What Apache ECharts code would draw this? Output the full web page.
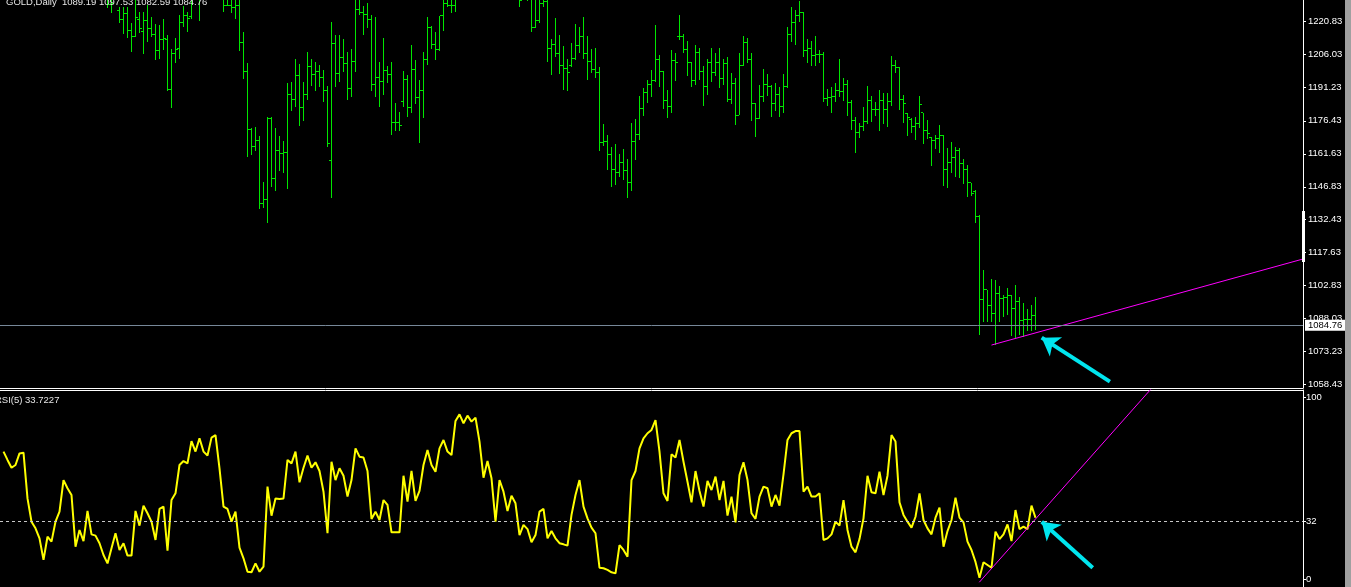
<!DOCTYPE html>
<html>
<head>
<meta charset="utf-8">
<title>GOLD,Daily</title>
<script src="https://cdn.jsdelivr.net/npm/echarts@6/dist/echarts.min.js"></script>
<style>
html, body { margin: 0; padding: 0; background: #000; }
#chart { width: 1351px; height: 587px; }
</style>
</head>
<body>
<div id="chart"></div>
<script>
// daily bars (bars that run above the top edge are estimates)
var opens = [
  1258, 1262, 1260, 1258, 1259, 1263, 1264, 1257, 1252, 1250,
  1247, 1240, 1243, 1242, 1245, 1247, 1253, 1251, 1250, 1240,
  1243, 1240, 1245, 1241, 1240, 1237, 1233, 1228.5, 1230.9, 1226,
  1221.9, 1224.6, 1217, 1214.4, 1222, 1216.4, 1221.3, 1217.9, 1214.9, 1207.8,
  1212.9, 1213, 1190.5, 1206.7, 1208.9, 1220.5, 1223.8, 1223.1, 1231.5, 1231,
  1234, 1233, 1232.5, 1238, 1239, 1234, 1228, 1228.2, 1227.3, 1228,
  1211.4, 1198.4, 1172.3, 1164.8, 1167.8, 1139.4, 1141.2, 1177.5, 1150.6, 1163.3,
  1161.8, 1162, 1188.3, 1186, 1196.5, 1182.5, 1188, 1200.7, 1197, 1198.4,
  1196, 1190.2, 1158.5, 1211.1, 1197.7, 1205, 1202, 1191, 1202.9, 1226.1,
  1225, 1224, 1222, 1192.9, 1195.9, 1194, 1199, 1197, 1175.6, 1175.6,
  1185, 1195, 1182.5, 1199.2, 1187, 1190, 1204, 1218.3, 1210.8, 1208.2,
  1223.4, 1229, 1228, 1227.9, 1238, 1244, 1242, 1248, 1246, 1250,
  1246, 1240, 1243, 1239, 1233, 1238, 1236.5, 1233.5, 1235.5, 1234.5,
  1231.5, 1233, 1232.5, 1218.3, 1221.3, 1229.1, 1229.8, 1208.9, 1210.5, 1206.4,
  1201.4, 1200, 1201, 1204.4, 1210, 1214, 1206.4, 1202.9, 1199.5, 1198,
  1166.6, 1167, 1161.4, 1154.4, 1153.2, 1157.6, 1154, 1148.7, 1167.1, 1170.4,
  1182, 1189, 1192.5, 1194.7, 1204, 1198.4, 1185.7, 1183, 1203.4, 1214,
  1214.4, 1208.5, 1202.5, 1194.3, 1207, 1198.4, 1192, 1202.5, 1198, 1202.5,
  1195.5, 1202.2, 1186, 1193.2, 1179, 1201.4, 1211.4, 1204, 1184, 1177.5,
  1187.2, 1192.9, 1192, 1184, 1188, 1183, 1192, 1215.3, 1220.4, 1223.8,
  1225, 1207.8, 1208.9, 1205.9, 1206, 1206.3, 1186.5, 1186.9, 1187.5, 1189.9,
  1189.5, 1192.5, 1184.5, 1176.5, 1171, 1173.8, 1176, 1185.4, 1181.6, 1181.3,
  1185.4, 1181.3, 1185, 1201.4, 1200.5, 1186, 1179.5, 1177, 1173.8, 1175,
  1180, 1172, 1169, 1167.5, 1168.5, 1170, 1154.7, 1157.7, 1160, 1163,
  1157.4, 1154.4, 1148.7, 1144.6, 1133.7, 1096.4, 1100.6, 1093.8, 1090.1, 1098.8,
  1096.8, 1097.2, 1098, 1092.4, 1095.3, 1087.1, 1087.5, 1087.2, 1089.19
];
var highs = [
  1266, 1265, 1263, 1263, 1267, 1268, 1265, 1259, 1255, 1252,
  1248, 1246, 1245, 1248, 1250, 1256, 1255, 1254, 1251, 1246,
  1244, 1248, 1246, 1244, 1242, 1239, 1236, 1233, 1236, 1227.6,
  1227.6, 1227.6, 1220.4, 1231, 1225.3, 1225.3, 1228.3, 1222.8, 1219.8, 1219.4,
  1222, 1214.9, 1208.5, 1213.4, 1223.8, 1227.9, 1225.3, 1232, 1236, 1237,
  1238, 1237, 1240, 1242, 1240, 1236, 1233, 1232, 1233, 1231,
  1216.1, 1202.5, 1173, 1173.8, 1169.6, 1149.1, 1178.3, 1178, 1173, 1169.6,
  1167.5, 1193.2, 1194, 1204, 1201.9, 1194, 1207.4, 1204, 1202.9, 1201.4,
  1199.2, 1192, 1220.5, 1214.9, 1214.9, 1212.9, 1207.4, 1208.5, 1231.5, 1232,
  1227.9, 1229.1, 1223.8, 1223.1, 1202.9, 1213.4, 1201, 1202.9, 1184.2, 1180.5,
  1198.7, 1197, 1210.4, 1203.7, 1194.7, 1207.4, 1222.8, 1219, 1216.4, 1223.5,
  1233, 1236, 1233, 1240, 1246, 1247, 1250, 1250, 1252, 1251,
  1247, 1246, 1244, 1240, 1240, 1240, 1238, 1237, 1237, 1236,
  1236, 1236, 1234, 1231, 1232, 1234, 1232, 1212.9, 1222.3, 1214.9,
  1209.9, 1204, 1211.4, 1219.8, 1218.6, 1222.8, 1214.4, 1208.5, 1208.9, 1200.4,
  1175, 1170, 1164.5, 1166, 1161.5, 1163.8, 1159.1, 1175.3, 1177.1, 1187.5,
  1191, 1194.7, 1199.2, 1219.4, 1205.9, 1198.9, 1190.2, 1208.2, 1207, 1223.8,
  1215.3, 1212.3, 1202.9, 1210.4, 1208.9, 1201, 1204, 1208.9, 1207, 1208.9,
  1204, 1204.9, 1197.7, 1195.5, 1207, 1214.4, 1213.4, 1207, 1184.5, 1192.5,
  1199.5, 1197.4, 1192.5, 1193.2, 1191.4, 1197.4, 1218.3, 1227.3, 1226.1, 1230,
  1225.3, 1212.9, 1212.3, 1214.4, 1208.2, 1207.4, 1190.5, 1191.4, 1193.2, 1204,
  1195.5, 1194.7, 1185.7, 1178, 1175.6, 1182.5, 1192, 1187.5, 1185, 1190.2,
  1188.7, 1189, 1205.5, 1203.7, 1200.7, 1188, 1179.8, 1177.5, 1178, 1187.5,
  1180.1, 1176.8, 1169.3, 1170, 1174.5, 1170, 1164, 1167.1, 1164.8, 1164,
  1159.1, 1156.6, 1148.7, 1145.4, 1134, 1109.5, 1100.6, 1105.4, 1105.1, 1102.4,
  1098.3, 1101.3, 1098.3, 1102.8, 1097.6, 1094.6, 1091.9, 1093.8, 1097.53
];
var lows = [
  1255, 1256, 1254, 1255, 1257, 1259, 1254, 1249, 1246, 1243,
  1237, 1238, 1239, 1240, 1242, 1245, 1248, 1247, 1238, 1237,
  1237, 1239, 1238, 1237, 1234, 1232, 1226.8, 1224.9, 1230.8, 1220.4,
  1215.2, 1213.4, 1207.4, 1214.1, 1215.6, 1206.2, 1211.6, 1214.1, 1203.7, 1204,
  1208.2, 1189.8, 1182.3, 1202.2, 1204, 1218.3, 1216.4, 1221.9, 1230.8, 1221.3,
  1231, 1231, 1232, 1235, 1232, 1225.3, 1227.9, 1224.9, 1221.9, 1207.8,
  1195.2, 1160.3, 1161.1, 1163, 1136.9, 1137.5, 1130.7, 1146.6, 1144.9, 1154.1,
  1153.2, 1145.8, 1181, 1182.5, 1174.1, 1176.5, 1185.7, 1192, 1189.9, 1191.4,
  1185, 1164.5, 1142, 1191.4, 1193.9, 1198.4, 1185.7, 1186.9, 1198.4, 1223.8,
  1214.9, 1217.9, 1189.9, 1186.9, 1182.7, 1188, 1193.2, 1170, 1172, 1172,
  1182.7, 1178.3, 1180.1, 1184, 1166.6, 1177.5, 1201.4, 1208.5, 1203.7, 1207.8,
  1216.8, 1227.3, 1224.6, 1225.3, 1236, 1240, 1241, 1243, 1244, 1243,
  1238, 1238, 1237, 1232, 1232, 1234, 1232, 1232, 1232, 1227.6,
  1231, 1230.1, 1216.4, 1217.9, 1220.4, 1227.3, 1202.9, 1197, 1204.9, 1197.4,
  1190.2, 1189.9, 1200.7, 1203.7, 1207, 1204, 1194.7, 1197.7, 1195.5, 1162.9,
  1165.1, 1154.4, 1146.9, 1147.6, 1151.4, 1149.9, 1142, 1145.1, 1158.8, 1167.8,
  1178.6, 1184.5, 1187.2, 1194, 1191.4, 1181.6, 1177.8, 1180.1, 1194.4, 1212.6,
  1207, 1196.5, 1191.7, 1192.5, 1194.7, 1183, 1188, 1194, 1196.5, 1191,
  1192.5, 1185, 1183.9, 1174.5, 1179, 1201, 1202.2, 1176.5, 1169.3, 1177.1,
  1185, 1187.5, 1178.3, 1180.9, 1178, 1180.1, 1191, 1211.9, 1210.4, 1220.8,
  1205.2, 1202.5, 1201, 1201, 1202.2, 1185, 1183, 1180.1, 1185, 1187.2,
  1185.4, 1178.6, 1172.3, 1162.1, 1168.6, 1172, 1175, 1176, 1178.6, 1172,
  1175, 1173.8, 1183, 1198, 1181.3, 1175.6, 1169.6, 1171.1, 1167.8, 1173,
  1166, 1168.1, 1156.2, 1163.6, 1162.1, 1147.2, 1146.2, 1152.9, 1151.4, 1150.6,
  1148.1, 1142.4, 1142.7, 1130.5, 1080.4, 1086.4, 1086.4, 1086.4, 1075.9, 1086.4,
  1088.6, 1089.4, 1079.9, 1078.9, 1080.4, 1079.7, 1082.3, 1082.3, 1082.59
];
var closes = [
  1262, 1260, 1258, 1259, 1263, 1264, 1257, 1252, 1250, 1247,
  1240, 1243, 1242, 1245, 1247, 1253, 1251, 1250, 1240, 1243,
  1240, 1245, 1241, 1240, 1237, 1233, 1228.5, 1229, 1233, 1221.9,
  1224.3, 1217, 1214.4, 1222.8, 1218, 1221.3, 1217.9, 1215.2, 1207.8, 1212.9,
  1213.5, 1190.5, 1206.7, 1208.2, 1220.5, 1223.8, 1222.3, 1231.5, 1231, 1234,
  1233, 1232.5, 1238, 1239, 1234, 1228, 1228.2, 1227.3, 1228, 1211.4,
  1198.4, 1172.3, 1164.8, 1167.8, 1139.4, 1141.2, 1177.5, 1150.6, 1163.3, 1161.8,
  1162, 1188.3, 1186, 1196.5, 1182.5, 1188, 1200.7, 1197, 1198.4, 1196,
  1190.2, 1166.3, 1211.1, 1197.7, 1205, 1202, 1191, 1202.9, 1226.1, 1225,
  1224, 1222, 1192.9, 1195.9, 1194, 1199, 1197, 1175.6, 1175.6, 1174.5,
  1195, 1182.5, 1199.2, 1187, 1190, 1204, 1218.3, 1210.8, 1208.2, 1223.4,
  1229, 1228, 1227.9, 1238, 1244, 1242, 1248, 1246, 1250, 1246,
  1240, 1243, 1239, 1233, 1238, 1236.5, 1233.5, 1235.5, 1234.5, 1230.5,
  1233, 1232.5, 1218.3, 1221.3, 1229.1, 1229.8, 1208.9, 1210.5, 1206.4, 1201.4,
  1200, 1198, 1204.4, 1210, 1214, 1206.4, 1202.9, 1199.5, 1198, 1166.6,
  1167, 1161.4, 1154.4, 1153.2, 1157.6, 1154, 1148.7, 1167.1, 1170.4, 1182,
  1189, 1192.5, 1194.7, 1204, 1198.4, 1185.7, 1183, 1203.4, 1202.5, 1214.4,
  1208.5, 1202.5, 1194.3, 1207, 1198.4, 1192, 1202.5, 1198, 1202.5, 1195.5,
  1202.2, 1186, 1193.2, 1179, 1201.4, 1211.4, 1204, 1184, 1177.5, 1187.2,
  1192.9, 1192, 1184, 1188, 1183, 1192, 1215.3, 1220.4, 1223.8, 1225,
  1207.8, 1208.9, 1205.9, 1206, 1206.3, 1186.5, 1186.9, 1187.5, 1189.9, 1189.5,
  1192.5, 1184.5, 1176.5, 1171, 1173.8, 1176, 1185.4, 1181.6, 1181.3, 1185.4,
  1181.3, 1185, 1201.4, 1200.5, 1186, 1184, 1178, 1173.8, 1175, 1183.9,
  1172, 1170.5, 1167.5, 1168.5, 1170, 1154.7, 1157.7, 1160, 1163, 1157.4,
  1154.4, 1148.7, 1144, 1133.7, 1096.4, 1100.6, 1093.8, 1090.1, 1098.8, 1096.8,
  1097.2, 1098, 1092.4, 1095.3, 1087.1, 1087.5, 1087.2, 1089.2, 1084.76
];
// RSI(5), one value per bar
var rsi = [
  70.2, 65.6, 61.3, 62.8, 69.2, 69.6, 44.4, 31.6, 27.9, 22.4,
  10.5, 23.3, 20.6, 31.6, 37.1, 54.5, 50.0, 46.3, 17.8, 27.0,
  20.9, 37.5, 24.6, 23.9, 19.7, 13.2, 8.6, 16.9, 25.2, 16.0,
  19.7, 12.9, 12.9, 37.5, 29.4, 40.4, 36.2, 31.6, 21.5, 38.6,
  39.9, 15.6, 43.5, 47.2, 62.8, 65.0, 63.7, 76.0, 70.2, 77.5,
  70.2, 68.0, 77.9, 79.3, 61.0, 39.9, 38.6, 31.6, 37.1, 17.3,
  11.4, 4.0, 3.7, 8.6, 4.0, 6.8, 50.9, 34.9, 44.4, 44.1,
  44.4, 65.6, 63.7, 70.2, 53.3, 61.3, 68.0, 61.3, 64.3, 59.5,
  48.1, 25.2, 64.6, 54.5, 61.0, 56.9, 45.4, 54.5, 72.0, 67.4,
  66.9, 59.5, 33.1, 37.1, 32.5, 43.5, 40.8, 25.7, 25.7, 25.7,
  56.9, 42.6, 59.5, 43.0, 48.5, 62.8, 71.1, 62.8, 59.1, 72.0,
  76.6, 70.2, 68.3, 87.1, 90.7, 85.8, 90.0, 86.7, 88.9, 75.7,
  55.8, 65.0, 55.5, 31.6, 54.5, 48.1, 37.5, 45.9, 41.7, 24.2,
  29.8, 27.5, 20.2, 24.2, 37.1, 38.6, 22.4, 26.4, 22.4, 19.7,
  19.1, 18.4, 35.3, 46.3, 54.5, 39.9, 33.4, 28.3, 25.2, 6.2,
  5.9, 5.0, 3.7, 3.1, 18.7, 16.0, 12.3, 54.5, 59.5, 72.0,
  77.5, 80.3, 82.1, 87.6, 70.2, 47.2, 43.0, 68.7, 66.9, 76.6,
  64.6, 53.6, 42.2, 59.5, 48.5, 39.9, 54.0, 49.0, 56.4, 43.5,
  54.0, 34.9, 45.4, 31.2, 57.3, 64.3, 54.5, 36.2, 33.1, 45.4,
  50.9, 50.0, 39.9, 46.3, 40.4, 57.7, 76.6, 80.3, 81.5, 81.5,
  48.1, 50.9, 45.4, 45.4, 47.2, 21.5, 22.4, 24.6, 31.6, 29.4,
  43.5, 27.0, 17.8, 14.7, 22.0, 33.4, 56.9, 47.8, 47.2, 59.1,
  46.3, 56.9, 79.3, 75.7, 42.2, 35.3, 31.6, 28.3, 34.3, 47.2,
  32.5, 27.9, 24.6, 33.8, 39.3, 17.8, 26.4, 32.5, 44.8, 33.8,
  31.2, 20.6, 16.0, 9.4, 0.7, 9.2, 7.7, 6.2, 26.1, 22.0,
  24.6, 30.1, 20.9, 38.0, 27.5, 28.8, 27.5, 40.4, 33.7227
];
var priceTicks = [1220.83, 1206.03, 1191.23, 1176.43, 1161.63, 1146.83, 1132.43,
  1117.63, 1102.83, 1088.03, 1073.23, 1058.43];
var rsiTicks = [0, 32, 100];
var rsiLevel = 32;
// drawn objects, as [bar index, value]
var priceTrend = [[247, 1075.9], [324.875, 1114.47]];
var rsiTrend = [[243.95, -1.8], [300, 137.2]];
var priceArrow = [[276.6, 1059.5], [259.55, 1079.2]];
var rsiArrow = [[272.3, 6.2], [259.55, 31.6]];

var GREEN = '#00e600';
var FONT = '"Liberation Sans", Arial, sans-serif';
var last = closes.length - 1;
var lastPrice = closes[last];

var bars = opens.map(function (o, i) {
    return [i, o, highs[i], lows[i], closes[i]];
});
var rsiData = rsi.map(function (v, i) { return [i, v]; });

var title = 'GOLD,Daily  ' + [opens[last], highs[last], lows[last], closes[last]]
    .map(function (v) { return v.toFixed(2); }).join(' ');
var rsiTitle = 'RSI(5) ' + rsi[last].toFixed(4);

// one OHLC bar: 1px stem, open tick to the left, close tick to the right
function renderBar(params, api) {
    var i = api.value(0);
    var x = Math.round(api.coord([i, api.value(1)])[0] - 0.5);
    var yo = Math.round(api.coord([i, api.value(1)])[1] - 0.5);
    var yh = Math.round(api.coord([i, api.value(2)])[1]);
    var yl = Math.round(api.coord([i, api.value(3)])[1]);
    var yc = Math.round(api.coord([i, api.value(4)])[1] - 0.5);
    var st = { fill: GREEN };
    return {
        type: 'group',
        children: [
            { type: 'rect', shape: { x: x, y: yh, width: 1, height: Math.max(1, yl - yh) }, style: st },
            { type: 'rect', shape: { x: x - 2, y: yo, width: 2, height: 1 }, style: st },
            { type: 'rect', shape: { x: x + 1, y: yc, width: 2, height: 1 }, style: st }
        ]
    };
}

var chart = echarts.init(document.getElementById('chart'));

function xAxisFor(grid, pos) {
    return {
        type: 'value', gridIndex: grid, position: pos,
        min: -0.875, max: 324.875,
        axisLine: { show: true, onZero: false, lineStyle: { color: '#ffffff', width: 1 } },
        axisTick: { show: false }, axisLabel: { show: false }, splitLine: { show: false }
    };
}

var option = {
    backgroundColor: '#000000',
    animation: false,
    grid: [
        { left: 0, right: 48, top: 0, height: 388 },
        { left: 0, right: 48, top: 390, bottom: 0 }
    ],
    xAxis: [xAxisFor(0, 'bottom'), xAxisFor(1, 'top')],
    yAxis: [
        {
            type: 'value', gridIndex: 0, position: 'right',
            min: 1056.65, max: 1230.56,
            axisLine: { show: true, onZero: false, lineStyle: { color: '#ffffff' } },
            axisTick: { show: true, length: 3, customValues: priceTicks, lineStyle: { color: '#ffffff' } },
            axisLabel: {
                customValues: priceTicks, color: '#ffffff', fontSize: 9.5, fontFamily: FONT, margin: 5,
                formatter: function (v) { return v.toFixed(2); }
            },
            splitLine: { show: false }
        },
        {
            type: 'value', gridIndex: 1, position: 'right',
            min: -4.41, max: 104.13,
            axisLine: { show: true, onZero: false, lineStyle: { color: '#ffffff' } },
            axisTick: { show: true, length: 3, customValues: rsiTicks, lineStyle: { color: '#ffffff' } },
            axisLabel: {
                customValues: rsiTicks, color: '#ffffff', fontSize: 9.5, fontFamily: FONT, margin: 3,
                formatter: function (v) { return String(Math.round(v)); }
            },
            splitLine: { show: false }
        }
    ],
    series: [
        {
            type: 'custom', name: 'GOLD', xAxisIndex: 0, yAxisIndex: 0,
            renderItem: renderBar, data: bars, clip: true,
            encode: { x: 0, y: [1, 2, 3, 4] }, silent: true
        },
        {
            type: 'line', name: 'trend', xAxisIndex: 0, yAxisIndex: 0,
            data: priceTrend, showSymbol: false, silent: true, clip: true,
            lineStyle: { color: '#ff00ff', width: 1 },
            markLine: {
                silent: true, symbol: ['none', 'none'], animation: false,
                data: [{ yAxis: lastPrice }],
                lineStyle: { color: '#778899', width: 1, type: 'solid' },
                label: {
                    show: true, position: 'end', distance: 2,
                    formatter: function () { return lastPrice.toFixed(2); },
                    color: '#000000', backgroundColor: '#ffffff',
                    fontSize: 9.5, fontFamily: FONT, padding: [1, 4, 0, 3]
                }
            },
            z: 3
        },
        {
            type: 'line', name: 'RSI(5)', xAxisIndex: 1, yAxisIndex: 1,
            data: rsiData, showSymbol: false, silent: true,
            lineStyle: { color: '#ffff00', width: 2 },
            markLine: {
                silent: true, symbol: ['none', 'none'], animation: false,
                data: [{ yAxis: rsiLevel }],
                lineStyle: { color: '#c8c8c8', width: 1, type: [3, 3] },
                label: { show: false }
            },
            z: 2
        },
        {
            type: 'line', name: 'rsi trend', xAxisIndex: 1, yAxisIndex: 1,
            data: rsiTrend, showSymbol: false, silent: true, clip: true,
            lineStyle: { color: '#ff00ff', width: 1 }, z: 3
        },
        {
            type: 'lines', coordinateSystem: 'cartesian2d', xAxisIndex: 0, yAxisIndex: 0,
            data: [{ coords: priceArrow }], silent: true,
            symbol: ['none', 'arrow'], symbolSize: 17,
            lineStyle: { color: '#00e5ee', width: 4, opacity: 1, curveness: 0 }, z: 5
        },
        {
            type: 'lines', coordinateSystem: 'cartesian2d', xAxisIndex: 1, yAxisIndex: 1,
            data: [{ coords: rsiArrow }], silent: true,
            symbol: ['none', 'arrow'], symbolSize: 17,
            lineStyle: { color: '#00e5ee', width: 4, opacity: 1, curveness: 0 }, z: 5
        }
    ],
    graphic: [
        { type: 'rect', shape: { x: 1345, y: 0, width: 6, height: 587 }, style: { fill: '#a0a0a0' }, z: 10 },
        { type: 'rect', shape: { x: 1302, y: 211, width: 3, height: 51 }, style: { fill: '#ffffff' }, z: 10 },
        {
            type: 'text', x: 6, y: -3, z: 10,
            style: { text: title, fill: '#e6e6e6', font: '9.5px ' + FONT, verticalAlign: 'top' }
        },
        {
            type: 'text', x: -5, y: 395, z: 10,
            style: { text: rsiTitle, fill: '#e6e6e6', font: '9.5px ' + FONT, verticalAlign: 'top' }
        }
    ]
};

chart.setOption(option);
</script>
</body>
</html>
